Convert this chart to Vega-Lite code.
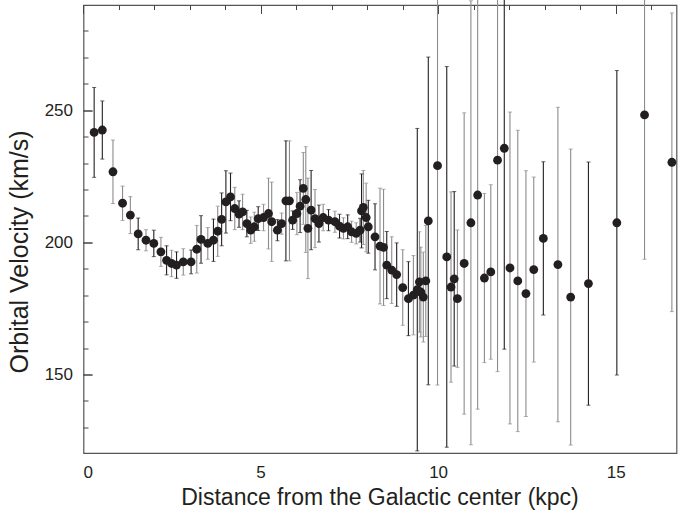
{
"$schema":"https://vega.github.io/schema/vega-lite/v6.json",
"width":593,"height":448,
"autosize":{"type":"none"},
"padding":{"left":83.5,"top":5,"right":5.5,"bottom":60},
"background":"white",
"config":{"view":{"stroke":"#555","strokeWidth":1.2},"axis":{"labelFont":"Liberation Sans","titleFont":"Liberation Sans","labelColor":"#231f20","titleColor":"#231f20","grid":false,"labelFontSize":17,"titleFontSize":24,"titleFontWeight":"normal","domain":false,"tickColor":"#444","tickWidth":1}},
"data":{"values":[
{"r":0.30,"v":241.8,"lo":224.8,"hi":258.8,"g":"b"},
{"r":0.53,"v":242.7,"lo":231.7,"hi":253.7,"g":"b"},
{"r":0.83,"v":226.9,"lo":214.9,"hi":238.9,"g":"a"},
{"r":1.10,"v":215.0,"lo":208.5,"hi":221.5,"g":"a"},
{"r":1.32,"v":210.5,"lo":203.5,"hi":217.5,"g":"a"},
{"r":1.54,"v":203.4,"lo":197.4,"hi":209.4,"g":"b"},
{"r":1.76,"v":201.0,"lo":197.0,"hi":205.0,"g":"a"},
{"r":1.98,"v":199.8,"lo":194.8,"hi":204.8,"g":"b"},
{"r":2.18,"v":196.6,"lo":191.1,"hi":202.1,"g":"a"},
{"r":2.34,"v":193.4,"lo":187.9,"hi":198.9,"g":"b"},
{"r":2.48,"v":192.2,"lo":187.2,"hi":197.2,"g":"a"},
{"r":2.62,"v":191.6,"lo":186.6,"hi":196.6,"g":"b"},
{"r":2.81,"v":192.8,"lo":187.8,"hi":197.8,"g":"a"},
{"r":3.03,"v":192.8,"lo":188.3,"hi":197.3,"g":"b"},
{"r":3.19,"v":197.6,"lo":188.6,"hi":206.6,"g":"a"},
{"r":3.31,"v":201.3,"lo":192.3,"hi":210.3,"g":"b"},
{"r":3.50,"v":199.8,"lo":193.8,"hi":205.8,"g":"a"},
{"r":3.66,"v":201.0,"lo":193.0,"hi":209.0,"g":"b"},
{"r":3.78,"v":204.4,"lo":194.9,"hi":213.9,"g":"a"},
{"r":3.89,"v":208.9,"lo":198.9,"hi":218.9,"g":"b"},
{"r":4.01,"v":215.5,"lo":203.7,"hi":227.3,"g":"b"},
{"r":4.14,"v":217.4,"lo":208.4,"hi":226.4,"g":"b"},
{"r":4.26,"v":213.0,"lo":205.0,"hi":221.0,"g":"a"},
{"r":4.38,"v":210.9,"lo":205.9,"hi":215.9,"g":"b"},
{"r":4.48,"v":211.7,"lo":205.0,"hi":218.4,"g":"a"},
{"r":4.60,"v":207.3,"lo":202.3,"hi":212.3,"g":"b"},
{"r":4.71,"v":204.8,"lo":199.8,"hi":209.8,"g":"a"},
{"r":4.81,"v":206.1,"lo":200.6,"hi":211.6,"g":"a"},
{"r":4.92,"v":209.2,"lo":204.7,"hi":213.7,"g":"b"},
{"r":5.07,"v":209.6,"lo":204.6,"hi":214.6,"g":"a"},
{"r":5.21,"v":211.1,"lo":197.7,"hi":224.5,"g":"a"},
{"r":5.30,"v":208.0,"lo":193.0,"hi":223.0,"g":"a"},
{"r":5.46,"v":204.8,"lo":200.8,"hi":208.8,"g":"b"},
{"r":5.58,"v":207.3,"lo":203.3,"hi":211.3,"g":"a"},
{"r":5.70,"v":215.9,"lo":193.2,"hi":238.6,"g":"b"},
{"r":5.80,"v":215.9,"lo":193.2,"hi":238.6,"g":"a"},
{"r":5.89,"v":208.6,"lo":205.1,"hi":212.1,"g":"b"},
{"r":6.01,"v":211.1,"lo":203.1,"hi":219.1,"g":"a"},
{"r":6.10,"v":213.9,"lo":203.9,"hi":223.9,"g":"b"},
{"r":6.19,"v":220.6,"lo":207.0,"hi":234.2,"g":"a"},
{"r":6.26,"v":216.4,"lo":196.4,"hi":236.4,"g":"a"},
{"r":6.32,"v":205.5,"lo":186.5,"hi":224.5,"g":"a"},
{"r":6.41,"v":212.4,"lo":197.4,"hi":227.4,"g":"b"},
{"r":6.52,"v":209.2,"lo":198.2,"hi":220.2,"g":"a"},
{"r":6.63,"v":207.3,"lo":200.3,"hi":214.3,"g":"b"},
{"r":6.75,"v":209.6,"lo":204.6,"hi":214.6,"g":"a"},
{"r":6.90,"v":208.6,"lo":204.6,"hi":212.6,"g":"b"},
{"r":7.08,"v":208.0,"lo":204.0,"hi":212.0,"g":"a"},
{"r":7.21,"v":206.3,"lo":201.8,"hi":210.8,"g":"b"},
{"r":7.32,"v":205.5,"lo":201.5,"hi":209.5,"g":"a"},
{"r":7.44,"v":206.1,"lo":201.6,"hi":210.6,"g":"b"},
{"r":7.55,"v":204.2,"lo":200.2,"hi":208.2,"g":"a"},
{"r":7.68,"v":203.6,"lo":199.6,"hi":207.6,"g":"a"},
{"r":7.79,"v":204.8,"lo":200.3,"hi":209.3,"g":"b"},
{"r":7.83,"v":212.1,"lo":198.1,"hi":226.1,"g":"b"},
{"r":7.88,"v":213.4,"lo":199.4,"hi":227.4,"g":"a"},
{"r":7.96,"v":209.6,"lo":196.6,"hi":222.6,"g":"a"},
{"r":8.02,"v":206.1,"lo":196.1,"hi":216.1,"g":"b"},
{"r":8.21,"v":202.3,"lo":189.8,"hi":214.8,"g":"b"},
{"r":8.35,"v":198.8,"lo":176.9,"hi":220.7,"g":"a"},
{"r":8.45,"v":198.3,"lo":176.3,"hi":220.3,"g":"a"},
{"r":8.54,"v":191.6,"lo":178.9,"hi":204.3,"g":"b"},
{"r":8.68,"v":189.7,"lo":177.1,"hi":202.3,"g":"a"},
{"r":8.82,"v":188.0,"lo":176.0,"hi":200.0,"g":"b"},
{"r":8.99,"v":183.1,"lo":168.8,"hi":197.4,"g":"a"},
{"r":9.15,"v":178.9,"lo":164.9,"hi":192.9,"g":"b"},
{"r":9.29,"v":180.2,"lo":165.2,"hi":195.2,"g":"a"},
{"r":9.40,"v":182.3,"lo":121.3,"hi":243.3,"g":"b"},
{"r":9.46,"v":185.2,"lo":166.2,"hi":204.2,"g":"a"},
{"r":9.50,"v":181.4,"lo":164.4,"hi":198.4,"g":"a"},
{"r":9.57,"v":179.5,"lo":162.5,"hi":196.5,"g":"a"},
{"r":9.64,"v":185.6,"lo":164.6,"hi":206.6,"g":"a"},
{"r":9.71,"v":208.3,"lo":146.3,"hi":270.3,"g":"b"},
{"r":9.97,"v":229.2,"lo":146.2,"hi":312.2,"g":"a"},
{"r":10.23,"v":194.7,"lo":122.7,"hi":266.7,"g":"b"},
{"r":10.35,"v":183.3,"lo":147.3,"hi":219.3,"g":"a"},
{"r":10.44,"v":186.4,"lo":153.4,"hi":219.4,"g":"b"},
{"r":10.53,"v":178.9,"lo":152.9,"hi":204.9,"g":"a"},
{"r":10.72,"v":192.2,"lo":135.2,"hi":249.2,"g":"a"},
{"r":10.91,"v":207.6,"lo":123.6,"hi":291.6,"g":"a"},
{"r":11.10,"v":218.1,"lo":137.1,"hi":299.1,"g":"a"},
{"r":11.29,"v":186.7,"lo":154.7,"hi":218.7,"g":"a"},
{"r":11.47,"v":189.0,"lo":156.0,"hi":222.0,"g":"a"},
{"r":11.66,"v":231.3,"lo":151.3,"hi":311.3,"g":"a"},
{"r":11.85,"v":235.8,"lo":159.8,"hi":311.8,"g":"b"},
{"r":12.01,"v":190.5,"lo":131.5,"hi":249.5,"g":"a"},
{"r":12.23,"v":185.6,"lo":128.6,"hi":242.6,"g":"a"},
{"r":12.46,"v":180.8,"lo":134.3,"hi":227.3,"g":"a"},
{"r":12.68,"v":189.9,"lo":154.9,"hi":224.9,"g":"a"},
{"r":12.95,"v":201.7,"lo":172.7,"hi":230.7,"g":"b"},
{"r":13.36,"v":191.8,"lo":132.3,"hi":251.3,"g":"a"},
{"r":13.72,"v":179.5,"lo":123.5,"hi":235.5,"g":"a"},
{"r":14.22,"v":184.6,"lo":138.6,"hi":230.6,"g":"b"},
{"r":15.02,"v":207.6,"lo":150.0,"hi":265.2,"g":"b"},
{"r":15.80,"v":248.4,"lo":193.8,"hi":303.0,"g":"a"},
{"r":16.57,"v":230.5,"lo":174.0,"hi":287.0,"g":"a"}
]},
"resolve":{"axis":{"x":"independent","y":"independent"}},
"layer":[
{"mark":{"type":"rule","clip":true,"strokeWidth":1.1},
 "encoding":{
  "x":{"field":"r","type":"quantitative","scale":{"domain":[0,16.7],"nice":false,"zero":false},"axis":{"orient":"bottom","values":[0,5,10,15],"tickSize":9,"labelPadding":451,"title":"Distance from the Galactic center (kpc)","titleFontSize":23,"titleBaseline":"alphabetic","titleY":500,"encode":{"ticks":{"update":{"y":{"value":439},"y2":{"value":448}}}}}},
  "y":{"field":"lo","type":"quantitative","scale":{"domain":[120.5,290],"nice":false,"zero":false},"axis":{"orient":"left","values":[150,200,250],"tickSize":-9,"labelPadding":19.5,"title":"Orbital Velocity (km/s)","titleFontSize":25,"titleAngle":-90,"titleAlign":"center","titleBaseline":"alphabetic","titleX":-56,"titleY":247}},
  "y2":{"field":"hi"},
  "color":{"field":"g","type":"nominal","scale":{"domain":["a","b"],"range":["#8c8c8c","#231f20"]},"legend":null}}},
{"mark":{"type":"tick","clip":true,"orient":"horizontal","size":4,"thickness":1},
 "encoding":{
  "x":{"field":"r","type":"quantitative","axis":{"orient":"top","tickSize":-5,"values":[1,2,3,4,6,7,8,9,11,12,13,14,16],"labels":false,"title":null}},
  "y":{"field":"lo","type":"quantitative","axis":{"orient":"left","tickSize":-5,"values":[130,140,160,170,180,190,210,220,230,240,260,270,280],"labels":false,"title":null}},
  "color":{"field":"g","type":"nominal","legend":null}}},
{"mark":{"type":"tick","clip":true,"orient":"horizontal","size":4,"thickness":1},
 "encoding":{
  "x":{"field":"r","type":"quantitative","axis":{"orient":"top","tickSize":-9,"values":[0,5,10,15],"labels":false,"title":null}},
  "y":{"field":"hi","type":"quantitative","axis":{"orient":"right","tickSize":9,"values":[150,200,250],"labels":false,"title":null,"encode":{"ticks":{"update":{"x":{"value":584},"x2":{"value":593}}}}}},
  "color":{"field":"g","type":"nominal","legend":null}}},
{"mark":{"type":"point","filled":true,"shape":"circle","size":78,"opacity":1,"color":"#231f20","clip":true},
 "encoding":{
  "x":{"field":"r","type":"quantitative","axis":{"orient":"bottom","tickSize":5,"values":[1,2,3,4,6,7,8,9,11,12,13,14,16],"labels":false,"title":null,"encode":{"ticks":{"update":{"y":{"value":443},"y2":{"value":448}}}}}},
  "y":{"field":"v","type":"quantitative","axis":null}}},
{"data":{"values":[{"r":7.98,"v":199.8}]},
 "mark":{"type":"point","shape":"star","size":170,"filled":true,"fill":"white","stroke":"#231f20","strokeWidth":1.2,"opacity":1},
 "encoding":{
  "x":{"field":"r","type":"quantitative","axis":null},
  "y":{"field":"v","type":"quantitative","axis":null}}}
]
}
